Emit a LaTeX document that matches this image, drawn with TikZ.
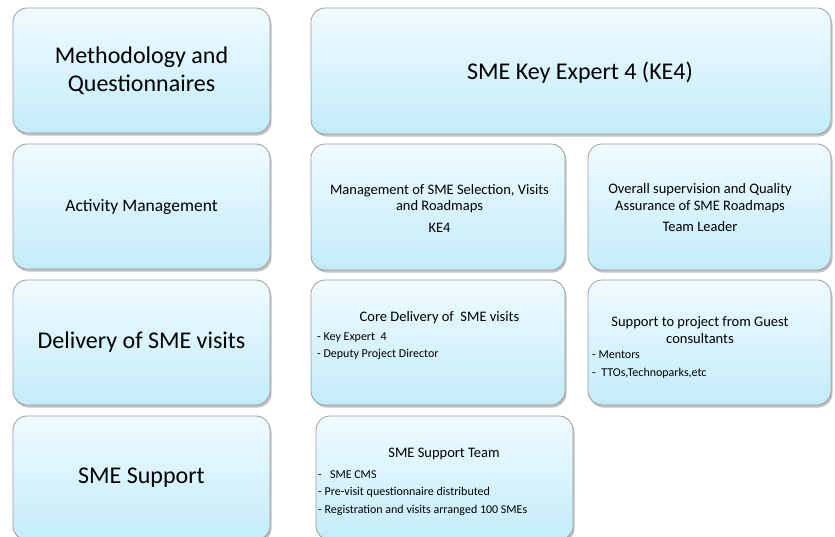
\documentclass[tikz,border=0pt]{standalone}
\usepackage{fontspec}
\setmainfont{Carlito}
\usetikzlibrary{shadows}
\usetikzlibrary{positioning}
\definecolor{boxtop}{HTML}{F0FBFF}
\definecolor{boxbot}{HTML}{C2ECFA}
\definecolor{boxline}{HTML}{9C9C9C}
\tikzset{
    mybox/.style = {rectangle, rounded corners=14pt, draw=boxline, line width=0.8pt, top color=boxtop, bottom color=boxbot, align=center, text=black, inner sep=0pt,
        drop shadow={shadow xshift=1.5pt, shadow yshift=-2.5pt, opacity=0.35, fill=black!70}},
    mytxt/.style = {align=center, text=black, inner sep=0pt},
    mybul/.style = {anchor=west, text=black, inner sep=0pt, font=\fontsize{12}{14}\selectfont},
    bigfont/.style = {font=\fontsize{24}{28}\selectfont},
    midfont/.style = {font=\fontsize{17.5}{21}\selectfont},
    smlfont/.style = {font=\fontsize{14.5}{16.5}\selectfont},
}
\begin{document}
\begin{tikzpicture}[x=1pt,y=-1pt]
\useasboundingbox (0,0) rectangle (835,536);
\clip (0,0) rectangle (835,536);
% left column
\node[mybox, bigfont, minimum width=257pt, minimum height=125pt] at (141.5,  70.5) (meth) {Methodology and\\Questionnaires};
\node[mybox, midfont, minimum width=257pt, minimum height=125pt] at (141.5, 206.5) (actm) {Activity Management};
\node[mybox, bigfont, minimum width=257pt, minimum height=125pt] at (141.5, 342.5) (deli) {Delivery of SME visits};
\node[mybox, bigfont, minimum width=257pt, minimum height=124pt] at (141.5, 478.0) (supp) {SME Support};
% top right
\node[mybox, minimum width=520pt, minimum height=126pt] at (571.0, 71.0) (kexp) {};
\node[mytxt, bigfont] at (580, 73) (kexpt) {SME Key Expert 4 (KE4)};
% second row
\node[mybox, minimum width=254pt, minimum height=126pt] at (438.0, 207.0) (mgmt) {};
\node[mybox, minimum width=243pt, minimum height=126pt] at (709.5, 207.0) (qual) {};
\node[mytxt, smlfont] at (439.5, 208) (mgmtt) {Management of SME Selection, Visits\\and Roadmaps\\[5pt]KE4};
\node[mytxt, smlfont] at (700, 208) (qualt) {Overall supervision and Quality\\Assurance of SME Roadmaps\\[5pt]Team Leader};
% third row
\node[mybox, minimum width=254pt, minimum height=125pt] at (438.0, 342.5) (core) {};
\node[mybox, minimum width=243pt, minimum height=125pt] at (709.5, 342.5) (gues) {};
\node[mytxt, smlfont] at (439.5, 318) (coret) {Core Delivery of \ SME visits};
\node[mybul] at (317, 338) (core1) {- Key Expert \ 4};
\node[mybul] at (317, 354) (core2) {- Deputy Project Director};
\node[mytxt, smlfont] at (700, 330) (guest) {Support to project from Guest\\consultants};
\node[mybul] at (592, 355) (gues1) {- Mentors};
\node[mybul] at (592, 373) (gues2) {- \ TTOs,Technoparks,etc};
% fourth row
\node[mybox, minimum width=257pt, minimum height=124pt] at (444.5, 478.0) (team) {};
\node[mytxt, smlfont] at (444, 454) (teamt) {SME Support Team};
\node[mybul] at (318, 475) (team1) {- \ \ SME CMS};
\node[mybul] at (318, 492) (team2) {- Pre-visit questionnaire distributed};
\node[mybul] at (318, 510) (team3) {- Registration and visits arranged 100 SMEs};
\end{tikzpicture}
\end{document}
